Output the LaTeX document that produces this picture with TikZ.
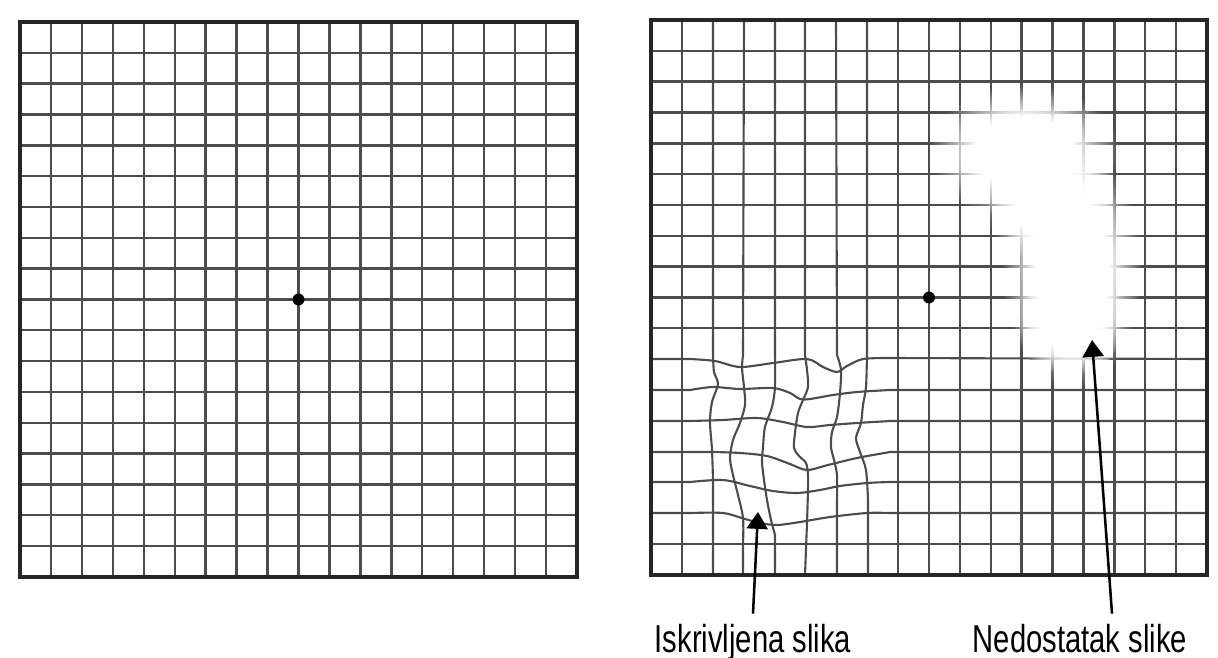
\documentclass[tikz,border=0pt]{standalone}
\usepackage{fontspec}
\setmainfont[FakeStretch=0.75]{Liberation Sans}
\usetikzlibrary{arrows.meta,fadings}

\pgfdeclareradialshading{softspotshade}{\pgfpointorigin}{color(0bp)=(pgftransparent!0); color(13bp)=(pgftransparent!0); color(25bp)=(pgftransparent!100); color(50bp)=(pgftransparent!100)}
\pgfdeclarefading{soft spot}{\pgfuseshading{softspotshade}}

\begin{document}
\begin{tikzpicture}[x=0.025cm, y=-0.025cm,
    gridline/.style={black!70, line width=1.7pt},
    gridframe/.style={black!85, line width=2.6pt},
    wavy/.style={black!70, line width=1.5pt},
    spot/.style={circle, fill=black, inner sep=0pt, minimum size=8.5pt},
    caption/.style={font=\fontsize{27.7}{30}\selectfont, inner sep=7pt, anchor=base},
    pointer/.style={line width=1.8pt, -{Triangle[length=12pt,width=15pt]}},
    blank/.style={white, path fading=soft spot}]
  \useasboundingbox (0,0) rectangle (1218,658);

  % left grid
  \foreach \i in {0,...,18}{
    \draw[gridline] ({20+30.944*\i},22) -- ({20+30.944*\i},577);
    \draw[gridline] (20,{22+30.83*\i}) -- (577,{22+30.83*\i});
  }
  \draw[gridframe] (20,22) rectangle (577,577);
  \node[spot] (fixL) at (298.5,299.5) {};

  % right grid, straight lines
  \foreach \i in {0,1,8,9,...,18}{
    \draw[gridline] ({651+30.89*\i},20) -- ({651+30.89*\i},575);
  }
  \foreach \j in {0,...,10,17,18}{
    \draw[gridline] (651,{20+30.83*\j}) -- (1207,{20+30.83*\j});
  }

  % right grid, distorted part
  \draw[wavy] (713,20) -- plot[smooth] coordinates {(713,355) (714,372) (718,384) (712,402) (710,422) (712,450) (713,480)} -- (713,575);
  \draw[wavy] (744,20) -- plot[smooth] coordinates {(743,355) (742,368) (744,387) (745,405) (740,423) (733,440) (730,458) (733,475) (738,495) (743,518) (743,545)} -- (743,575);
  \draw[wavy] (775,20) -- plot[smooth] coordinates {(775,355) (775,387) (772,407) (765,427) (763,447) (762,462) (764,480) (767,500) (771,520) (775,535)} -- (775,575);
  \draw[wavy] (805,20) -- plot[smooth] coordinates {(805,355) (807,370) (808,387) (803,400) (798,413) (795,433) (794,448) (799,456) (806,463) (808,475) (808,490) (807,523)} -- (805,575);
  \draw[wavy] (836,20) -- plot[smooth] coordinates {(837,355) (841,370) (840,393) (837,417) (832,432) (831,447) (834,460) (837,475) (837,500)} -- (837,575);
  \draw[wavy] (867,20) -- plot[smooth] coordinates {(867,355) (866,387) (863,405) (861,423) (856,438) (860,452) (866,470) (868,500)} -- (868,575);

  \draw[wavy] (651,359) -- plot[smooth] coordinates {(690,359) (715,361) (740,367) (773,363) (807,359) (823,367) (837,372) (847,366) (863,359) (890,358)} -- (1207,359);
  \draw[wavy] (651,390) -- plot[smooth] coordinates {(690,390) (713,387) (740,389) (773,388) (790,393) (800,399) (810,399) (833,395) (857,392) (890,390)} -- (1207,390);
  \draw[wavy] (651,421) -- plot[smooth] coordinates {(690,421) (723,420) (757,418) (783,422) (807,427) (830,425) (857,423) (890,421)} -- (1207,421);
  \draw[wavy] (651,452) -- plot[smooth] coordinates {(690,452) (713,452) (740,453) (767,456) (790,464) (807,470) (828,465) (857,458) (890,452)} -- (1207,452);
  \draw[wavy] (651,482) -- plot[smooth] coordinates {(690,482) (723,480) (750,486) (773,491) (797,493) (820,490) (840,486) (867,483) (890,482)} -- (1207,482);
  \draw[wavy] (651,513) -- plot[smooth] coordinates {(690,513) (723,513) (745,519) (760,523) (777,525) (800,522) (830,517) (867,513) (890,513)} -- (1207,513);

  \draw[gridframe] (651,20) rectangle (1207,575);

  % missing patch
  \fill[blank] (1024,152) ellipse (95 and 68);
  \fill[blank] (1072,268) ellipse (70 and 120);
  \fill[blank] (1050,205) ellipse (65 and 60);
  \fill[blank] (1070,320) ellipse (55 and 55);

  \node[spot] (fixR) at (929,297.5) {};

  % labels
  \node[caption] (lblA) at (753,652) {Iskrivljena slika};
  \node[caption] (lblB) at (1080,652) {Nedostatak slike};
  \coordinate (tipA) at (758,512);
  \coordinate (tipB) at (1092,340);
  \draw[pointer] (lblA.north) -- (tipA);
  \draw[pointer] ([xshift=0.8cm]lblB.north) -- (tipB);
\end{tikzpicture}
\end{document}
